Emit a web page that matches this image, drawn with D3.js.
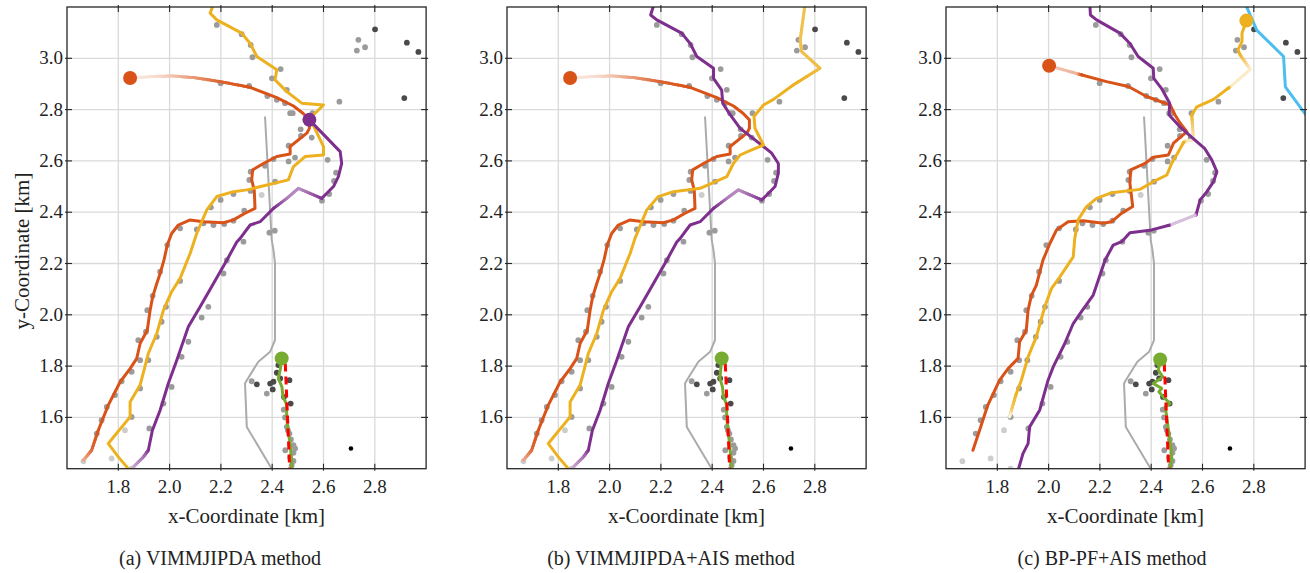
<!DOCTYPE html>
<html>
<head>
<meta charset="utf-8">
<script src="https://cdn.jsdelivr.net/npm/d3@7"></script>
<style>
  html, body { margin: 0; padding: 0; background: #fff; }
  svg { display: block; }
</style>
</head>
<body>
<svg id="chart" width="1310" height="573"></svg>
<script>
// ---- axis ticks and captions ----
const xTicks = [1.8, 2.0, 2.2, 2.4, 2.6, 2.8];
const yTicks = [1.6, 1.8, 2.0, 2.2, 2.4, 2.6, 2.8, 3.0];
const captions = ["(a) VIMMJIPDA method", "(b) VIMMJIPDA+AIS method", "(c) BP-PF+AIS method"];

// ---- radar measurements [x km, y km] ----
const measurements = [
  [2.184,3.13],[2.281,3.094],[2.316,3.052],[2.323,3.004],[2.433,2.958],[2.399,2.922],[2.457,2.877],
  [2.199,2.903],[2.31,2.892],[2.381,2.853],[2.418,2.838],[2.45,2.825],[2.47,2.786],[2.48,2.786],
  [2.557,2.786],[2.662,2.831],[2.511,2.723],[2.512,2.697],[2.554,2.691],[2.464,2.659],[2.489,2.613],
  [2.464,2.598],[2.616,2.604],[2.372,2.581],[2.405,2.607],[2.316,2.558],[2.311,2.526],[2.411,2.519],
  [2.649,2.554],[2.641,2.522],[2.594,2.445],[2.622,2.471],[2.316,2.483],[2.249,2.471],[2.199,2.448],
  [2.161,2.419],[2.291,2.406],[2.249,2.367],[2.213,2.354],[2.171,2.35],[2.132,2.357],[2.106,2.333],
  [2.041,2.337],[2.389,2.32],[2.41,2.328],
  [2.736,3.072],[2.762,3.043],[2.73,3.03],
  [1.991,2.272],[1.963,2.168],[1.934,2.074],[1.913,2.018],[1.908,1.934],[1.878,1.901],[1.885,1.823],
  [1.852,1.778],[1.813,1.741],[1.787,1.687],[1.755,1.641],[1.735,1.589],[1.716,1.537],
  [2.041,2.132],[1.986,2.031],[1.969,1.973],[1.95,1.914],[1.917,1.823],[1.885,1.713],[1.852,1.602],
  [2.288,2.285],[2.223,2.213],[2.21,2.161],[2.151,2.031],[2.125,1.989],[2.073,1.895],[2.047,1.836],
  [2.008,1.719],[1.976,1.654],[1.921,1.557],
  [2.32,1.741],[2.379,1.693],
  [2.445,1.63],[2.45,1.6],[2.457,1.563],[2.461,1.55],[2.467,1.537],[2.473,1.514],[2.483,1.492],
  [2.489,1.479],[2.451,1.472],[2.483,1.462],[2.47,1.443],[2.483,1.43],[2.476,1.413]
];
const measurementsRecent = [
  [2.801,3.113],[2.925,3.061],[2.97,3.025],[2.915,2.845],
  [2.424,1.804],[2.418,1.774],[2.431,1.752],[2.405,1.739],[2.392,1.732],[2.402,1.709],
  [2.467,1.745],[2.446,1.68],[2.472,1.654],[2.34,1.729]
];
const measurementsOld = [
  [2.359,2.467],[1.664,1.429],[1.774,1.44],[1.852,1.4],[1.826,1.55]
];
const clutter = [[2.707,1.479]];

// ---- ground truth ----
const truthGray = [
  [2.372,2.773],[2.398,2.292],[2.405,2.252],[2.411,2.2],[2.411,1.901],[2.392,1.856],
  [2.346,1.817],[2.301,1.745],[2.294,1.732],[2.301,1.563],[2.398,1.4]
];
const truthRed = [[2.451,1.81],[2.468,1.4]];

// ---- estimated tracks [x km, y km, existence probability] ----
const orangeA = [
  [1.846,2.923,0.12],[1.95,2.93,0.2],[2.015,2.931,0.35],[2.10,2.924,0.6],[2.197,2.909,0.9],
  [2.314,2.887],[2.418,2.847],[2.483,2.814],[2.52,2.786],[2.545,2.76],[2.545,2.727],[2.535,2.708],
  [2.47,2.656],[2.47,2.627],[2.418,2.617],[2.366,2.59],[2.324,2.565],[2.32,2.526],[2.33,2.486],
  [2.333,2.415],[2.294,2.396],[2.249,2.37],[2.21,2.359],[2.131,2.363],[2.08,2.37],[2.034,2.35],
  [2.008,2.317],[1.991,2.272],[1.978,2.213],[1.963,2.161],[1.95,2.122],[1.934,2.07],[1.924,2.018],
  [1.913,1.94],[1.885,1.888],[1.872,1.83],[1.846,1.79],[1.807,1.738],[1.761,1.648],[1.722,1.55],
  [1.696,1.472,0.9],[1.664,1.433,0.5]
];
const yellowA = [
  [2.171,3.21],[2.158,3.176],[2.184,3.15],[2.281,3.098],[2.314,3.058],[2.34,3.007],[2.418,2.955],
  [2.411,2.916],[2.457,2.87],[2.515,2.825],[2.6,2.818],[2.56,2.779],[2.56,2.74],[2.6,2.656],
  [2.6,2.623],[2.528,2.617],[2.483,2.578],[2.463,2.526],[2.301,2.487],[2.249,2.48],[2.184,2.461],
  [2.145,2.409],[2.106,2.318],[2.08,2.239],[2.041,2.142],[2.008,2.09],[1.976,2.018],[1.95,1.927],
  [1.917,1.849],[1.885,1.726],[1.846,1.66],[1.846,1.602],[1.761,1.498],[1.8,1.446],[1.839,1.4]
];
const purpleA = [
  [2.545,2.76],[2.665,2.636],[2.671,2.59],[2.658,2.539],[2.639,2.5],[2.613,2.474],[2.593,2.454],
  [2.502,2.493,0.55],[2.457,2.454,0.6],[2.405,2.415],[2.353,2.363],[2.314,2.35],[2.275,2.298],
  [2.262,2.284],[2.223,2.213],[2.171,2.122],[2.119,2.031],[2.073,1.953],[2.028,1.823],[1.995,1.732],
  [1.963,1.628],[1.933,1.55],[1.917,1.472],[1.898,1.446,0.7],[1.852,1.4,0.4]
];
const greenA = [
  [2.437,1.83],[2.431,1.784],[2.424,1.752],[2.438,1.719],[2.442,1.68],[2.455,1.654],[2.457,1.602],
  [2.461,1.55],[2.47,1.498],[2.474,1.446],[2.477,1.4]
];

const orangeB = orangeA;
const yellowB = [
  [2.762,3.21,0.8],[2.743,3.072,0.8],[2.749,3.026,0.8],[2.82,2.961,0.85],[2.716,2.896],[2.639,2.84],
  [2.6,2.818],[2.563,2.773],[2.567,2.727],[2.6,2.662],[2.554,2.643],[2.509,2.623],[2.483,2.591],
  [2.457,2.539],[2.353,2.493],[2.249,2.48],[2.19,2.461],[2.145,2.409],[2.099,2.298],[2.08,2.239],
  [2.041,2.142],[2.008,2.09],[1.976,2.018],[1.95,1.927],[1.917,1.849],[1.885,1.726],[1.846,1.66],
  [1.846,1.602],[1.761,1.498],[1.8,1.446],[1.839,1.4]
];
const purpleB = [
  [2.173,3.21],[2.16,3.169],[2.184,3.15],[2.281,3.098],[2.314,3.058],[2.34,3.007],[2.405,2.961],
  [2.405,2.922],[2.437,2.876],[2.441,2.825],[2.47,2.78],[2.509,2.727],[2.6,2.656],[2.632,2.63],
  [2.658,2.59],[2.658,2.552],[2.645,2.5],[2.613,2.467],[2.593,2.448],[2.502,2.487,0.55],
  [2.457,2.454,0.6],[2.405,2.415],[2.353,2.363],[2.314,2.35],[2.275,2.298],[2.262,2.284],
  [2.223,2.213],[2.171,2.122],[2.119,2.031],[2.073,1.953],[2.028,1.823],[1.995,1.732],[1.963,1.628],
  [1.933,1.55],[1.917,1.472],[1.898,1.446,0.7],[1.852,1.4,0.4]
];
const greenB = [
  [2.437,1.83],[2.433,1.784],[2.43,1.752],[2.44,1.719],[2.444,1.68],[2.455,1.654],[2.457,1.602],
  [2.461,1.55],[2.468,1.498],[2.472,1.446],[2.475,1.4]
];

const orangeC = [
  [2.002,2.971,0.3],[2.115,2.939,0.45],[2.13,2.935],[2.226,2.909],[2.311,2.89],[2.382,2.851],
  [2.474,2.818],[2.493,2.779],[2.513,2.747],[2.539,2.714],[2.487,2.669],[2.467,2.623],[2.408,2.614],
  [2.376,2.59],[2.32,2.565],[2.317,2.513],[2.328,2.422],[2.285,2.396],[2.246,2.363],[2.213,2.357],
  [2.135,2.367],[2.076,2.363],[2.031,2.331],[2.005,2.278],[1.978,2.213],[1.952,2.115],[1.933,2.076],
  [1.92,2.018],[1.913,1.94],[1.887,1.895],[1.881,1.83],[1.842,1.79],[1.809,1.745],[1.763,1.648],
  [1.731,1.55],[1.705,1.472]
];
const yellowC = [
  [2.771,3.147],[2.754,3.098],[2.754,3.065],[2.738,3.033],[2.747,3.013],[2.786,2.957,0.25],
  [2.708,2.889,0.25],[2.70,2.883],[2.643,2.84],[2.578,2.811],[2.558,2.779],[2.565,2.682,0.3],
  [2.532,2.677,0.3],[2.525,2.67],[2.506,2.636],[2.48,2.591],[2.461,2.545],[2.408,2.519],[2.356,2.489],
  [2.246,2.476],[2.187,2.454],[2.148,2.422],[2.115,2.37],[2.102,2.298],[2.096,2.226],[2.044,2.148],
  [2.011,2.102],[1.985,2.031],[1.952,1.914],[1.92,1.836],[1.894,1.745],[1.874,1.693],
  [1.855,1.628,0.7],[1.848,1.602,0.12]
];
const purpleC = [
  [2.161,3.21],[2.163,3.169],[2.187,3.15],[2.278,3.098],[2.317,3.058],[2.349,3.007],[2.408,2.961],
  [2.41,2.922],[2.44,2.883],[2.472,2.825],[2.47,2.779],[2.511,2.734],[2.563,2.688],[2.608,2.649],
  [2.636,2.604],[2.656,2.558],[2.643,2.519],[2.617,2.48],[2.591,2.448],[2.575,2.39],
  [2.568,2.387,0.3],[2.474,2.35,0.3],[2.466,2.348],[2.402,2.331],[2.317,2.32],[2.285,2.285],
  [2.252,2.272],[2.22,2.213],[2.174,2.077],[2.128,2.012],[2.096,1.966],[2.063,1.888],[2.018,1.797],
  [1.998,1.745],[1.965,1.628],[1.926,1.563],[1.92,1.498],[1.9,1.459],[1.883,1.4]
];
const cyanC = [[2.768,3.21],[2.812,3.109],[2.916,3.007],[2.923,2.889],[3.01,2.77]];
const greenC = [
  [2.435,1.826],[2.428,1.784],[2.445,1.758],[2.408,1.732],[2.441,1.713],[2.43,1.7],[2.447,1.68],
  [2.474,1.654],[2.454,1.641],[2.461,1.602],[2.467,1.55],[2.474,1.498],[2.48,1.446],[2.474,1.4]
];

const colors = {
  orange: "#D95319", yellow: "#EDB120", purple: "#7E2F8E", green: "#77AC30",
  cyan: "#4DBEEE", red: "#FF0000", truth: "#ababab"
};

const panels = [
  { left: 67, caption: captions[0],
    tracks: [[orangeA, colors.orange], [yellowA, colors.yellow], [purpleA, colors.purple]],
    green: greenA,
    markers: [[orangeA[0], colors.orange], [purpleA[0], colors.purple], [greenA[0], colors.green]] },
  { left: 507, caption: captions[1],
    tracks: [[orangeB, colors.orange], [purpleB, colors.purple], [yellowB, colors.yellow]],
    green: greenB,
    markers: [[orangeB[0], colors.orange], [greenB[0], colors.green]] },
  { left: 946, caption: captions[2],
    tracks: [[orangeC, colors.orange], [yellowC, colors.yellow], [purpleC, colors.purple], [cyanC, colors.cyan]],
    green: greenC,
    markers: [[orangeC[0], colors.orange], [yellowC[0], colors.yellow], [greenC[0], colors.green]] }
];

// ---- layout ----
const FONT = "Liberation Serif";
const plotTop = 7;
const kmPx = 256.5;
const W = 1.4 * kmPx, H = 1.8 * kmPx;
const x = d3.scaleLinear().domain([1.6, 3.0]).range([0, W]);
const y = d3.scaleLinear().domain([1.4, 3.2]).range([H, 0]);
const line = d3.line().x(d => x(d[0])).y(d => y(d[1]));

const svg = d3.select("#chart");

function drawTrack(g, pts, color, width) {
  const shade = p => d3.interpolateRgb("#ffffff", color)(p);
  let run = [];
  const flush = () => {
    if (run.length > 1) {
      g.append("path").attr("d", line(run)).attr("fill", "none")
        .attr("stroke", color).attr("stroke-width", width)
        .attr("stroke-linejoin", "round").attr("stroke-linecap", "round");
    }
    run = [];
  };
  for (let i = 0; i < pts.length - 1; i++) {
    const a = pts[i], b = pts[i + 1];
    const pa = a.length > 2 ? a[2] : 1, pb = b.length > 2 ? b[2] : 1;
    if (pa >= 1 && pb >= 1) {
      if (run.length === 0) run.push(a);
      run.push(b);
    } else {
      flush();
      const n = 10;
      for (let j = 0; j < n; j++) {
        const t0 = j / n, t1 = (j + 1) / n, tm = (t0 + t1) / 2;
        const p0 = [a[0] + (b[0] - a[0]) * t0, a[1] + (b[1] - a[1]) * t0];
        const p1 = [a[0] + (b[0] - a[0]) * t1, a[1] + (b[1] - a[1]) * t1];
        g.append("path").attr("d", line([p0, p1])).attr("fill", "none")
          .attr("stroke", shade(pa + (pb - pa) * tm)).attr("stroke-width", width)
          .attr("stroke-linecap", "round");
      }
    }
  }
  flush();
}

panels.forEach((pn, idx) => {
  const g = svg.append("g").attr("transform", `translate(${pn.left},${plotTop})`);
  const clipId = "clip" + idx;
  g.append("clipPath").attr("id", clipId).append("rect").attr("width", W).attr("height", H);

  // grid
  g.append("g").selectAll("line").data(xTicks).join("line")
    .attr("x1", d => x(d)).attr("x2", d => x(d)).attr("y1", 0).attr("y2", H)
    .attr("stroke", "#dadada").attr("stroke-width", 1.3);
  g.append("g").selectAll("line").data(yTicks).join("line")
    .attr("y1", d => y(d)).attr("y2", d => y(d)).attr("x1", 0).attr("x2", W)
    .attr("stroke", "#dadada").attr("stroke-width", 1.3);

  const plot = g.append("g").attr("clip-path", `url(#${clipId})`);

  // ground truth (gray)
  plot.append("path").attr("d", line(truthGray)).attr("fill", "none")
    .attr("stroke", colors.truth).attr("stroke-width", 2).attr("stroke-linejoin", "round");

  // measurements
  const dots = (data, fill, r) => plot.append("g").selectAll("circle").data(data).join("circle")
    .attr("cx", d => x(d[0])).attr("cy", d => y(d[1])).attr("r", r).attr("fill", fill);
  dots(measurementsOld, "#cdcdcd", 2.9);
  dots(measurements, "#9b9b9b", 2.9);
  dots(measurementsRecent, "#4a4a4a", 2.9);
  dots(clutter, "#000", 2.3);

  // tracks
  pn.tracks.forEach(([pts, c]) => drawTrack(plot, pts, c, 3));

  // AIS vessel: green estimate with red dashed truth
  plot.append("path").attr("d", line(pn.green)).attr("fill", "none")
    .attr("stroke", colors.green).attr("stroke-width", 3).attr("stroke-linejoin", "round");
  plot.append("path").attr("d", line(truthRed)).attr("fill", "none")
    .attr("stroke", colors.red).attr("stroke-width", 3).attr("stroke-dasharray", "8,5");

  // track start markers
  plot.append("g").selectAll("circle").data(pn.markers).join("circle")
    .attr("cx", d => x(d[0][0])).attr("cy", d => y(d[0][1])).attr("r", 7).attr("fill", d => d[1]);

  // frame
  g.append("rect").attr("width", W).attr("height", H).attr("fill", "none")
    .attr("stroke", "#262626").attr("stroke-width", 1.3);

  // ticks on all four sides (inward)
  const tk = g.append("g").attr("stroke", "#262626").attr("stroke-width", 1.1);
  xTicks.forEach(t => {
    tk.append("line").attr("x1", x(t)).attr("x2", x(t)).attr("y1", H + 2).attr("y2", H - 5);
    tk.append("line").attr("x1", x(t)).attr("x2", x(t)).attr("y1", -2).attr("y2", 5);
  });
  yTicks.forEach(t => {
    tk.append("line").attr("y1", y(t)).attr("y2", y(t)).attr("x1", -2).attr("x2", 5);
    tk.append("line").attr("y1", y(t)).attr("y2", y(t)).attr("x1", W + 2).attr("x2", W - 5);
  });

  // tick labels
  g.append("g").selectAll("text").data(xTicks).join("text")
    .attr("x", d => x(d)).attr("y", H + 24).attr("text-anchor", "middle")
    .style("font-family", FONT).style("font-size", "19px").attr("fill", "#222")
    .text(d => d.toFixed(1));
  g.append("g").selectAll("text").data(yTicks).join("text")
    .attr("x", -4).attr("y", d => y(d) + 6).attr("text-anchor", "end")
    .style("font-family", FONT).style("font-size", "19px").attr("fill", "#222")
    .text(d => d.toFixed(1));

  // axis titles
  g.append("text").attr("x", W / 2).attr("y", 516).attr("text-anchor", "middle")
    .style("font-family", FONT).style("font-size", "21px").attr("fill", "#222")
    .text("x-Coordinate [km]");
  if (idx === 0) {
    g.append("text").attr("transform", `translate(${-pn.left + 29},${244}) rotate(-90)`)
      .attr("text-anchor", "middle").style("font-family", FONT).style("font-size", "21px")
      .attr("fill", "#222").text("y-Coordinate [km]");
  }
});

// sub-figure captions
[220, 671, 1112].forEach((cx, i) => {
  svg.append("text").attr("x", cx).attr("y", 565).attr("text-anchor", "middle")
    .style("font-family", FONT).style("font-size", "20px").attr("fill", "#222").text(captions[i]);
});
</script>
</body>
</html>
